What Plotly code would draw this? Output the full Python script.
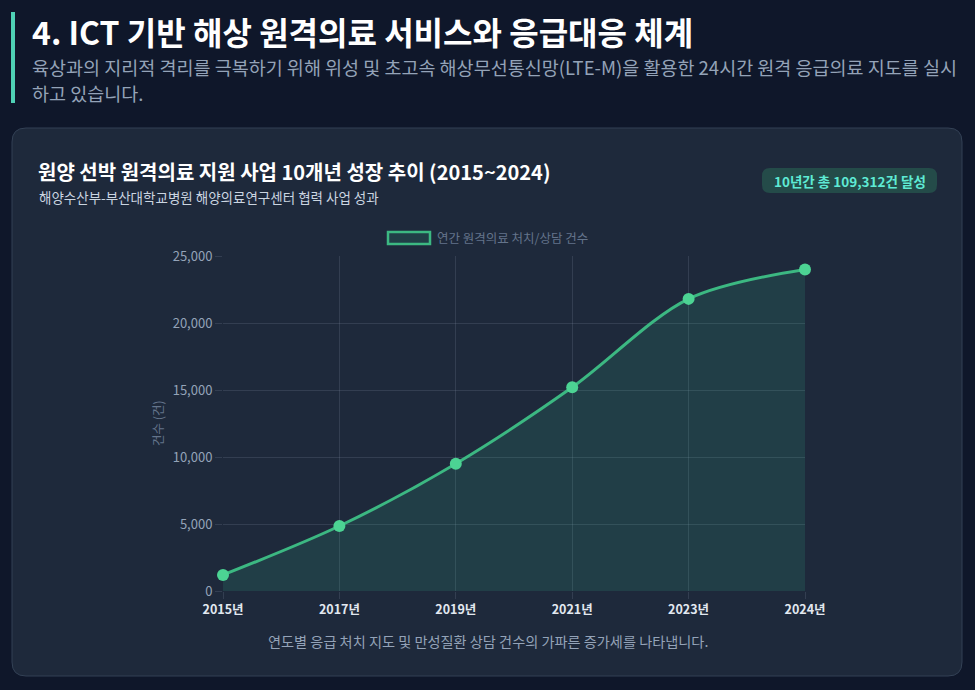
import plotly.graph_objects as go

# ---- data ----
years = ["2015년", "2017년", "2019년", "2021년", "2023년", "2024년"]
cases = [1200, 4850, 9500, 15200, 21800, 24000]
y_ticks = [0, 5000, 10000, 15000, 20000, 25000]
y_tick_labels = ["0", "5,000", "10,000", "15,000", "20,000", "25,000"]

series_name = "연간 원격의료 처치/상담 건수"
page_title = "4. ICT 기반 해상 원격의료 서비스와 응급대응 체계"
page_sub1 = "육상과의 지리적 격리를 극복하기 위해 위성 및 초고속 해상무선통신망(LTE-M)을 활용한 24시간 원격 응급의료 지도를 실시"
page_sub2 = "하고 있습니다."
card_title = "원양 선박 원격의료 지원 사업 10개년 성장 추이 (2015~2024)"
card_sub = "해양수산부-부산대학교병원 해양의료연구센터 협력 사업 성과"
badge_text = "10년간 총 109,312건 달성"
y_title = "건수 (건)"
footer = "연도별 응급 처치 지도 및 만성질환 상담 건수의 가파른 증가세를 나타냅니다."

W, H = 975, 690
FONT = "Noto Sans CJK KR"
PAGE_BG = "#0f172a"
CARD_BG = "#1e293b"
GRID = "rgba(148,163,184,0.18)"
LINE = "#3cb882"
MARK = "#4cd393"
FILL = "rgba(52,211,153,0.13)"


def px(x):
    return x / W


def py(y):
    return 1 - y / H


def rrect(x0, y0, x1, y1, r):
    X0, X1 = px(x0), px(x1)
    Y0, Y1 = py(y0), py(y1)
    rx, ry = r / W, r / H
    return (f"M {X0+rx},{Y0} L {X1-rx},{Y0} Q {X1},{Y0} {X1},{Y0-ry} "
            f"L {X1},{Y1+ry} Q {X1},{Y1} {X1-rx},{Y1} L {X0+rx},{Y1} "
            f"Q {X0},{Y1} {X0},{Y1+ry} L {X0},{Y0-ry} Q {X0},{Y0} {X0+rx},{Y0} Z")


fig = go.Figure()
fig.add_trace(go.Scatter(
    x=years, y=cases, mode="lines+markers", name=series_name,
    line=dict(color=LINE, width=3, shape="spline", smoothing=0.9),
    marker=dict(color=MARK, size=12),
    fill="tozeroy", fillcolor=FILL, cliponaxis=False, showlegend=False,
    hovertemplate="%{x}: %{y:,}건<extra></extra>",
))

shapes = [
    dict(type="path", xref="paper", yref="paper", path=rrect(12, 128, 962, 676, 14),
         fillcolor=CARD_BG, line=dict(color="#334155", width=1), layer="below"),
    dict(type="rect", xref="paper", yref="paper", x0=px(11), x1=px(15), y0=py(12), y1=py(103),
         fillcolor="#4fd1b5", line=dict(width=0), layer="below"),
    dict(type="path", xref="paper", yref="paper", path=rrect(762, 168, 937, 193, 8),
         fillcolor="#244b49", line=dict(width=0), layer="below"),
    dict(type="rect", xref="paper", yref="paper", x0=px(388), x1=px(430), y0=py(232), y1=py(244),
         fillcolor=FILL, line=dict(color=LINE, width=2.5), layer="above"),
]

ann = []


def text(x, y, s, size, color, bold=False, xanchor="left"):
    ann.append(dict(x=px(x), y=py(y), xref="paper", yref="paper", text=f"<b>{s}</b>" if bold else s,
                    showarrow=False, xanchor=xanchor, yanchor="middle",
                    font=dict(family=FONT, size=size, color=color)))


text(30, 31, page_title, 32, "#ffffff", bold=True)
text(30, 67, page_sub1, 18.5, "#94a3b8")
text(30, 93, page_sub2, 18.5, "#94a3b8")
text(36, 171, card_title, 20, "#ffffff", bold=True)
text(37, 197, card_sub, 13.5, "#cbd5e1")
text(849.5, 180.5, badge_text, 13.5, "#5eead4", bold=True, xanchor="center")
text(435, 238, series_name, 12.5, "#64748b")
text(488, 641, footer, 14.2, "#94a3b8", xanchor="center")
ann.append(dict(x=px(157), y=py(423), xref="paper", yref="paper", text=y_title, showarrow=False,
                textangle=-90, xanchor="center", yanchor="middle",
                font=dict(family=FONT, size=12.5, color="#64748b")))

fig.update_layout(
    width=W, height=H, margin=dict(l=0, r=0, t=0, b=0, autoexpand=False),
    paper_bgcolor=PAGE_BG, plot_bgcolor="rgba(0,0,0,0)",
    font=dict(family=FONT, color="#94a3b8"),
    shapes=shapes, annotations=ann, showlegend=False,
    xaxis=dict(domain=[px(223), px(805)], type="category", range=[0, len(years) - 1],
               showgrid=True, gridcolor=GRID, zeroline=False, showline=False,
               ticks="outside", ticklen=7, tickcolor=GRID,
               tickfont=dict(family=FONT, size=12.5, color="#e2e8f0", weight="bold"),
               fixedrange=True),
    yaxis=dict(domain=[py(591), py(256)], range=[0, 25000], tickvals=y_ticks, ticktext=y_tick_labels,
               showgrid=True, gridcolor=GRID, zeroline=False, showline=False,
               ticks="outside", ticklen=7, tickcolor=GRID,
               tickfont=dict(family=FONT, size=13, color="#94a3b8"), fixedrange=True),
)

fig.write_html("out.html", config={"displayModeBar": False},
               post_script="document.body.style.margin='0';document.body.style.overflow='hidden';"
                           "document.body.style.background='#0f172a';")
